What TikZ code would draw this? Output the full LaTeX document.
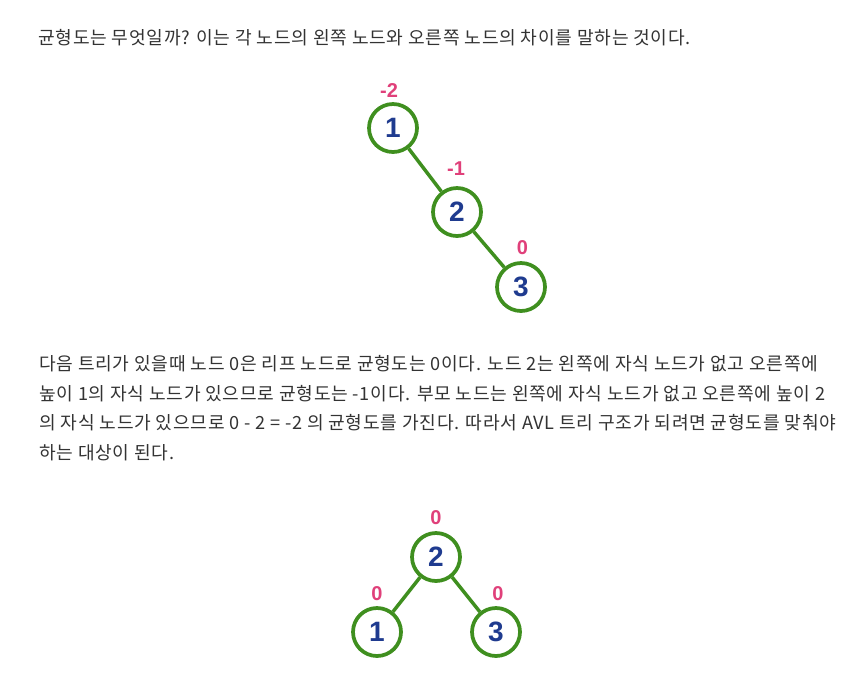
\documentclass[tikz,border=0pt]{standalone}
\usepackage{fontspec}
\newfontfamily\kr[LetterSpace=4]{Noto Sans CJK KR}
\newfontfamily\numfont{Liberation Sans}
\definecolor{txt}{HTML}{333333}
\definecolor{treegreen}{HTML}{3F8F1F}
\definecolor{numblue}{HTML}{1F3B8F}
\definecolor{balpink}{HTML}{E0407A}
\begin{document}
\begin{tikzpicture}[x=0.75pt,y=-0.75pt,
  para/.style={anchor=base west,inner sep=0pt,text=txt,font=\kr\fontsize{13.6pt}{16pt}\selectfont},
  tnode/.style={circle,draw=treegreen,line width=2.8pt,fill=white,minimum size=36pt,inner sep=0pt,
    text=numblue,font=\numfont\bfseries\fontsize{21pt}{24pt}\selectfont},
  bal/.style={inner sep=0pt,text=balpink,font=\numfont\bfseries\fontsize{15pt}{17pt}\selectfont},
  tedge/.style={draw=treegreen,line width=2.6pt}]
\useasboundingbox[fill=white] (0,0) rectangle (853,687);

\node[para] (t0) at (38,44) {균형도는 무엇일까? 이는 각 노드의 왼쪽 노드와 오른쪽 노드의 차이를 말하는 것이다.};

% tree 1
\node[tnode] (a1) at (393,128) {1};
\node[tnode] (a2) at (457,212) {2};
\node[tnode] (a3) at (521,287) {3};
\draw[tedge] (a1) -- (a2);
\draw[tedge] (a2) -- (a3);
\node[bal] (b1) at (389,91) {-2};
\node[bal] (b2) at (456,169) {-1};
\node[bal] (b3) at (522.5,248) {0};

\node[para] (p1) at (39,370) {다음 트리가 있을때 노드 0은 리프 노드로 균형도는 0이다. 노드 2는 왼쪽에 자식 노드가 없고 오른쪽에};
\node[para] (p2) at (39,400) {높이 1의 자식 노드가 있으므로 균형도는 -1이다. 부모 노드는 왼쪽에 자식 노드가 없고 오른쪽에 높이 2};
\node[para] (p3) at (39,429) {의 자식 노드가 있으므로 0 - 2 = -2 의 균형도를 가진다. 따라서 AVL 트리 구조가 되려면 균형도를 맞춰야};
\node[para] (p4) at (39,459) {하는 대상이 된다.};

% tree 2
\node[tnode] (c2) at (436,557) {2};
\node[tnode] (c1) at (377,632) {1};
\node[tnode] (c3) at (496,632) {3};
\draw[tedge] (c2) -- (c1);
\draw[tedge] (c2) -- (c3);
\node[bal] (d2) at (436,518) {0};
\node[bal] (d1) at (377,594) {0};
\node[bal] (d3) at (498,594) {0};
\end{tikzpicture}
\end{document}
